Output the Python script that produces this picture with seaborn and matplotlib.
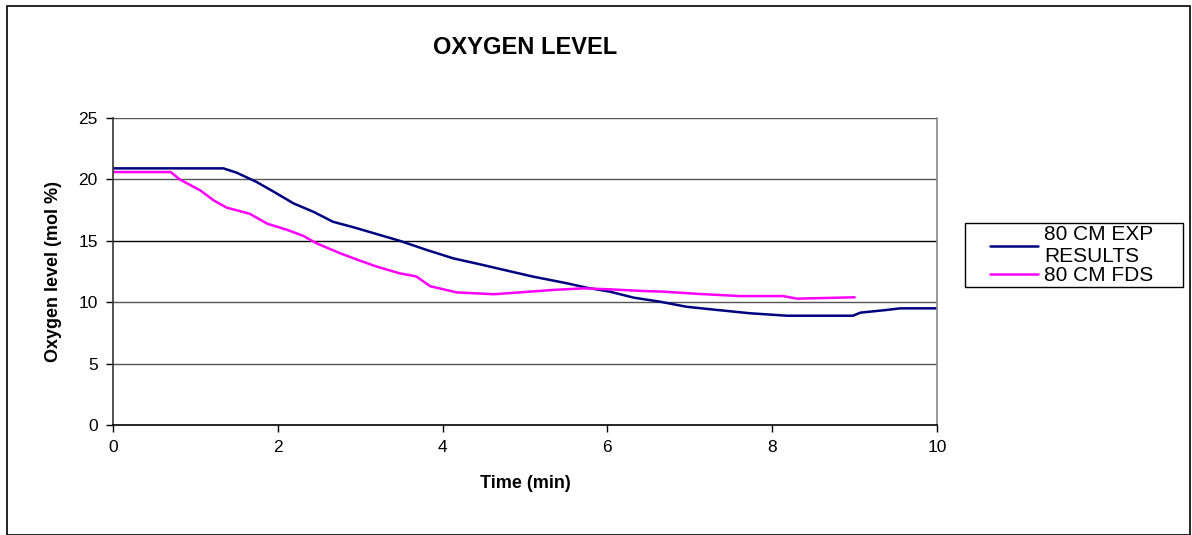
import numpy as np
import pandas as pd
import matplotlib
matplotlib.use("Agg")
import matplotlib.pyplot as plt
import matplotlib.patches as patches
import seaborn as sns

# 80 CM EXP RESULTS
exp_time = [0, 1.34, 1.50, 1.74, 1.95, 2.19, 2.43, 2.67, 2.92, 3.20, 3.48, 3.81, 4.13, 4.49,
            4.70, 5.10, 5.51, 5.75, 6.03, 6.32, 6.64, 6.96, 7.33, 7.73, 8.18, 8.98, 9.07,
            9.39, 9.55, 10.0]
exp_o2 = [20.9, 20.9, 20.55, 19.8, 19.0, 18.05, 17.37, 16.55, 16.1, 15.55, 15.0, 14.25, 13.57,
          13.03, 12.7, 12.08, 11.54, 11.18, 10.86, 10.37, 10.04, 9.63, 9.37, 9.1, 8.9, 8.9,
          9.15, 9.37, 9.5, 9.5]

# 80 CM FDS
fds_time = [0, 0.70, 0.81, 1.06, 1.22, 1.38, 1.66, 1.87, 2.11, 2.31, 2.47, 2.75, 2.99, 3.20,
            3.48, 3.68, 3.85, 4.17, 4.62, 4.94, 5.34, 5.71, 6.03, 6.44, 6.68, 7.12, 7.61,
            8.13, 8.30, 9.0]
fds_o2 = [20.6, 20.6, 20.0, 19.1, 18.3, 17.7, 17.2, 16.4, 15.9, 15.4, 14.8, 14.0, 13.4, 12.9,
          12.35, 12.1, 11.3, 10.8, 10.65, 10.8, 11.0, 11.13, 11.05, 10.91, 10.86, 10.67, 10.5,
          10.5, 10.29, 10.4]

y_ticks = [0, 5, 10, 15, 20, 25]
x_ticks = [0, 2, 4, 6, 8, 10]

sns.set_style("white")
plt.rcParams['font.family'] = ['Liberation Sans', 'DejaVu Sans']
plt.rcParams['text.color'] = 'black'
plt.rcParams['axes.labelcolor'] = 'black'

W, H = 1192, 535
fig = plt.figure(figsize=(W / 100, H / 100), dpi=100)
ax = fig.add_axes([0.0948, 0.2056, 0.6913, 0.5738])

sns.lineplot(x=exp_time, y=exp_o2, ax=ax, color='#000080', lw=1.8,
             label='80 CM EXP\nRESULTS', estimator=None, sort=False)
sns.lineplot(x=fds_time, y=fds_o2, ax=ax, color='#FF00FF', lw=1.8,
             label='80 CM FDS', estimator=None, sort=False)

ax.set_xlim(0, 10)
ax.set_ylim(0, 25)
ax.set_xticks(x_ticks)
ax.set_yticks(y_ticks)
ax.tick_params(axis='both', labelsize=12.5, direction='out', length=5, width=1,
               colors='black', left=True, bottom=True, pad=6)
for y in y_ticks[1:]:
    ax.axhline(y, color='#000000' if y == 15 else '#555555', lw=1, zorder=0)

ax.spines['top'].set_visible(False)
ax.spines['right'].set_color('#888888')
ax.spines['left'].set_color('#333333')
ax.spines['bottom'].set_color('#000000')
for s in ax.spines.values():
    s.set_linewidth(1.2)

ax.set_xlabel('Time (min)', fontsize=13, fontweight='bold', labelpad=14)
ax.set_ylabel('Oxygen level (mol %)', fontsize=13, fontweight='bold', labelpad=12)
fig.text(0.4405, 0.912, 'OXYGEN LEVEL', ha='center', va='center', fontsize=17,
         fontweight='bold')

# legend without its own frame; the Excel-like box is drawn separately
leg = ax.legend(loc='center left', bbox_to_anchor=(988 / W, 1 - 255 / H),
                bbox_transform=fig.transFigure, fontsize=15, frameon=False,
                labelspacing=0, handlelength=2.3, handletextpad=0.3,
                borderpad=0.1, borderaxespad=0)
fig.canvas.draw()
bb = leg.get_window_extent()
fig.patches.append(patches.Rectangle((965 / W, bb.y0 / H), (1183 - 965) / W,
                                     (bb.y1 - bb.y0) / H, transform=fig.transFigure,
                                     fill=False, edgecolor='black', lw=1))

# outer chart border
fig.patches.append(patches.Rectangle((7 / W, 0), (W - 9) / W, 1 - 6 / H,
                                     transform=fig.transFigure, fill=False,
                                     edgecolor='black', lw=1.2))

fig.savefig('out.png', dpi=100)
